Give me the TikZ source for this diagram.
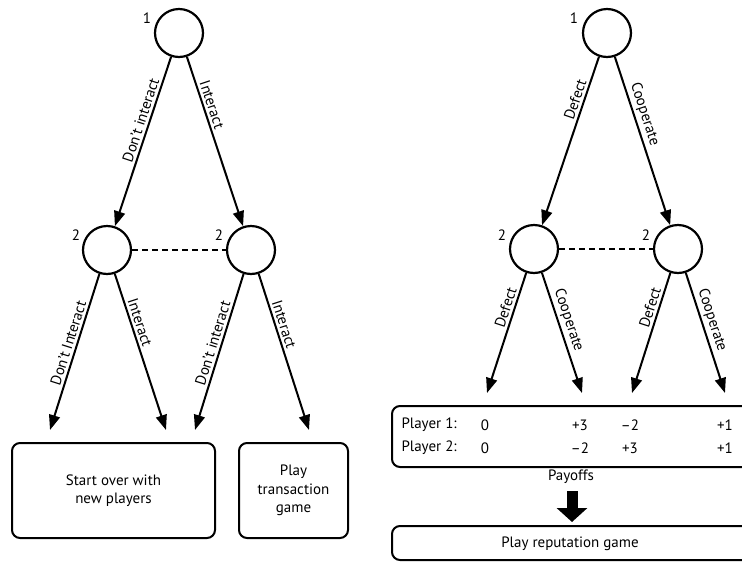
\documentclass[tikz,border=0pt]{standalone}
\usepackage{fontspec}
\setmainfont{PT Sans}
\usetikzlibrary{arrows.meta}
\begin{document}
\begin{tikzpicture}[x=1pt,y=-1pt,
  every node/.style={font=\fontsize{15}{18.5}\selectfont},
  dnode/.style={circle, draw, line width=2.2pt, minimum size=48pt, inner sep=0pt},
  edge/.style={line width=2pt, -{Triangle[length=15pt,width=11pt]}},
  lbl/.style={sloped, above, inner sep=2.5pt},
  box/.style={draw, line width=2pt, rounded corners=8pt, align=center, inner sep=0pt},
  info/.style={line width=2pt, dash pattern=on 6pt off 4pt},
  ]
\useasboundingbox (0,0) rectangle (742,563);
% ---------------- left tree ----------------
\node[dnode] (A) at (179,33) {};
\node[dnode] (AL) at (107,250) {};
\node[dnode] (AR) at (251,250) {};
\node (A1) at (147,18) {1};
\node (AL2) at (76,235) {2};
\node (AR2) at (219,235) {2};
\draw[edge] (A) -- node[lbl, pos=0.39] {Don’t interact} (AL);
\draw[edge] (A) -- node[lbl, pos=0.3] {Interact} (AR);
\draw[info] (AL) -- (AR);
\coordinate (e1) at (50,430);
\coordinate (e2) at (166,430);
\coordinate (e3) at (195,430);
\coordinate (e4) at (309,430);
\draw[edge] (AL) -- node[lbl, pos=0.46] {Don’t Interact} (e1);
\draw[edge] (AL) -- node[lbl, pos=0.33] {Interact} (e2);
\draw[edge] (AR) -- node[lbl, pos=0.46] {Don’t interact} (e3);
\draw[edge] (AR) -- node[lbl, pos=0.34] {Interact} (e4);
\node[box, minimum width=203pt, minimum height=95pt] (start) at (113.5,490.5) {Start over with\\new players};
\node[box, minimum width=109pt, minimum height=95pt] (trans) at (293.5,490.5) {Play\\transaction\\game};
% ---------------- right tree ----------------
\node[dnode] (B) at (607,33) {};
\node[dnode] (BL) at (534,249) {};
\node[dnode] (BR) at (678,249) {};
\node (B1) at (574,18) {1};
\node (BL2) at (502,235) {2};
\node (BR2) at (646,235) {2};
\draw[edge] (B) -- node[lbl, pos=0.27] {Defect} (BL);
\draw[edge] (B) -- node[lbl, pos=0.36] {Cooperate} (BR);
\draw[info] (BL) -- (BR);
\coordinate (f1) at (487,393);
\coordinate (f2) at (582,393);
\coordinate (f3) at (632,393);
\coordinate (f4) at (725,393);
\draw[edge] (BL) -- node[lbl, pos=0.31] {Defect} (f1);
\draw[edge] (BL) -- node[lbl, pos=0.42] {Cooperate} (f2);
\draw[edge] (BR) -- node[lbl, pos=0.31] {Defect} (f3);
\draw[edge] (BR) -- node[lbl, pos=0.42] {Cooperate} (f4);
\node[box, minimum width=368pt, minimum height=61pt] (pay) at (576,436.5) {};
\node[anchor=west] (p1) at (398,425) {Player 1:};
\node[anchor=west] (p2) at (398,448) {Player 2:};
\node (p1a) at (485,425) {0};
\node (p1b) at (580,425) {+3};
\node (p1c) at (630,425) {–2};
\node (p1d) at (725,425) {+1};
\node (p2a) at (485,448) {0};
\node (p2b) at (580,448) {–2};
\node (p2c) at (630,448) {+3};
\node (p2d) at (725,448) {+1};
\node[inner sep=1pt] (payoffs) at (571,477) {Payoffs};
\node[box, minimum width=368pt, minimum height=34pt] (rep) at (576,543) {};
\node (reptext) at (570,544) {Play reputation game};
\draw[line width=11pt, -{Triangle[length=14pt,width=30pt]}] (572,491) -- (572,522);
\end{tikzpicture}
\end{document}
